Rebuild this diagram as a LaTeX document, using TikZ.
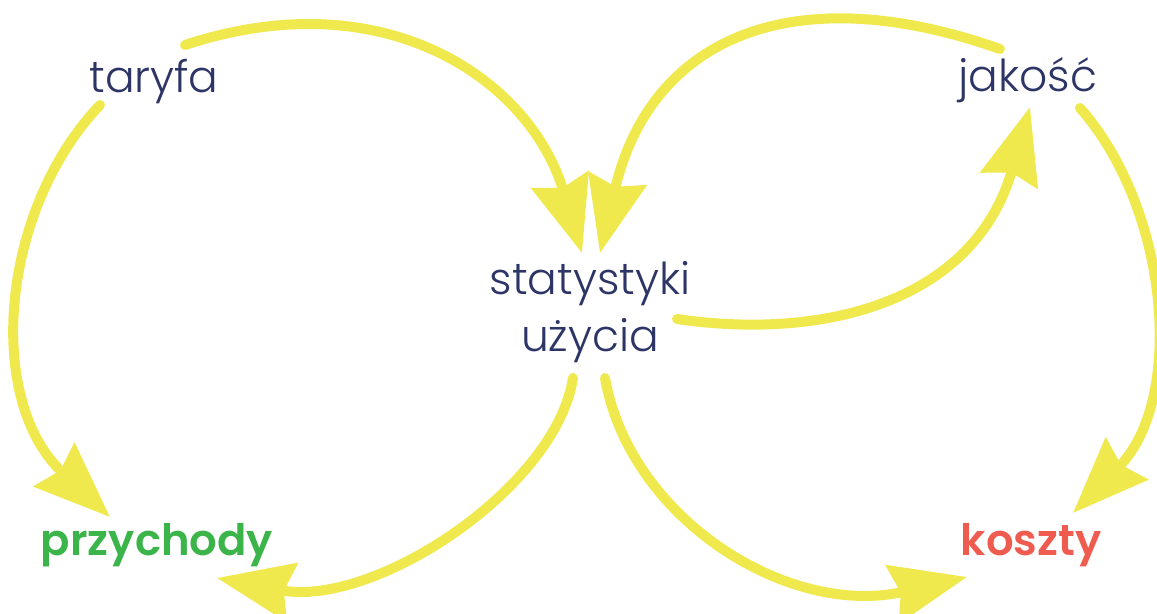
\documentclass[tikz,border=0pt]{standalone}
\usepackage{fontspec}
\setmainfont{Poppins Light}[BoldFont={Poppins SemiBold}]
\usetikzlibrary{arrows.meta}
\definecolor{navy}{HTML}{2D3566}
\definecolor{ylw}{HTML}{EFE94E}
\definecolor{grn}{HTML}{3BB54A}
\definecolor{rd}{HTML}{EF5B4F}
\begin{document}
\begin{tikzpicture}[x=0.75pt,y=-0.75pt,
  lbl/.style={text=navy,font=\fontsize{33}{43}\selectfont,inner sep=0pt},
  blbl/.style={font=\fontsize{32.5}{43}\selectfont\bfseries,inner sep=0pt},
  arr/.style={draw=ylw,line width=7.5pt,line cap=round,
    -{Stealth[length=57pt,width=44pt,inset=6pt]}}]
\useasboundingbox (0,0) rectangle (1157,614);
\node[lbl,anchor=base] (taryfa) at (154,92) {taryfa};
\node[lbl,anchor=base] (jakosc) at (1028,91) {jakość};
\node[lbl,align=center,anchor=center] (stat) at (590,312) {statystyki\\użycia};
\node[blbl,text=grn,anchor=base] (przy) at (157,555) {przychody};
\node[blbl,text=rd,anchor=base] (koszty) at (1031,555) {koszty};
% taryfa -> statystyki
\draw[arr] ([shift={(31,-47)}]taryfa.base) .. controls (385,-21) and (530,80) .. ([shift={(-8,-59)}]stat.center);
% jakosc -> statystyki
\draw[arr] ([shift={(-28,-42)}]jakosc.base) .. controls (790,-25) and (650,40) .. ([shift={(10,-59)}]stat.center);
% taryfa -> przychody
\draw[arr] ([shift={(-54,13)}]taryfa.base) .. controls (0,210) and (-15,400) .. ([shift={(-47,-38)}]przy.base);
% jakosc -> koszty
\draw[arr] ([shift={(52,17)}]jakosc.base) .. controls (1170,210) and (1185,400) .. ([shift={(42,-42)}]koszty.base);
% statystyki -> jakosc
\draw[arr] ([shift={(87,7)}]stat.center) .. controls (827,341) and (975,300) .. ([shift={(2,16)}]jakosc.base);
% statystyki -> przychody
\draw[arr] ([shift={(-17,66)}]stat.center) .. controls (556,488) and (374,608) .. ([shift={(60,23)}]przy.base);
% statystyki -> koszty
\draw[arr] ([shift={(15,66)}]stat.center) .. controls (630,520) and (790,618) .. ([shift={(-64,22)}]koszty.base);
\end{tikzpicture}
\end{document}
